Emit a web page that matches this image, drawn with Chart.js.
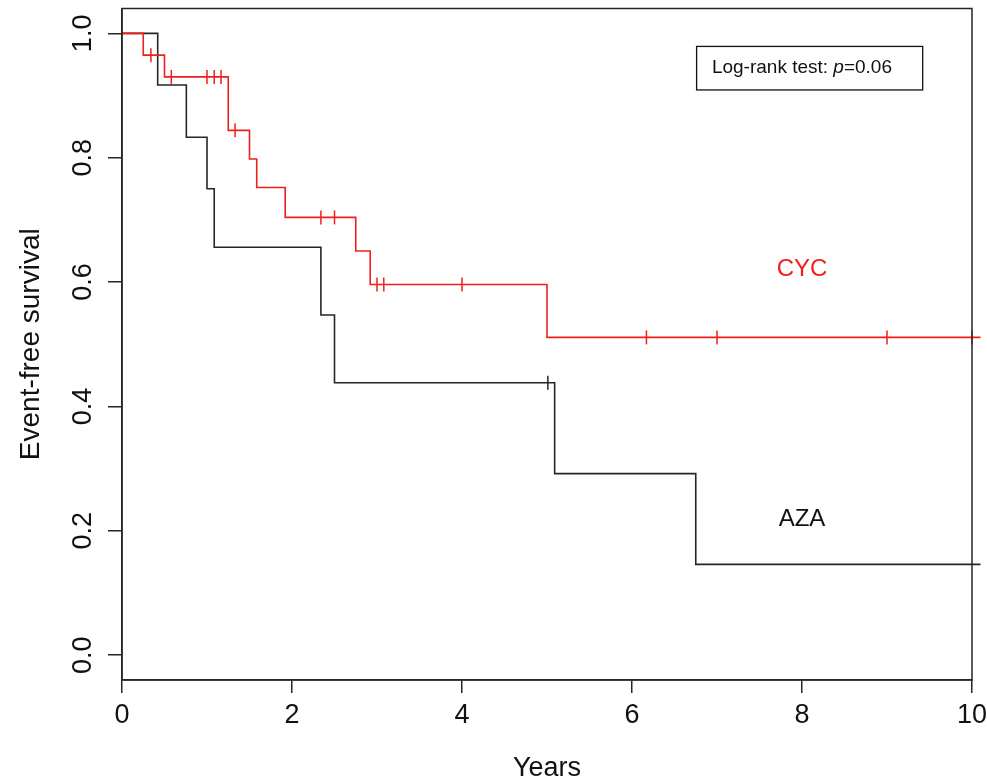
<!DOCTYPE html>
<html lang="en">
<head>
    <meta charset="UTF-8">
    <title>Event-free survival</title>
    <script src="https://cdn.jsdelivr.net/npm/chart.js"></script>
    <style>
        body { margin: 0; background: #fff; }
        canvas { display: block; }
    </style>
</head>
<body>
    <canvas id="kmChart" width="987" height="779"></canvas>

    <script>
        // Kaplan-Meier steps (years, survival)
        const cycTimes = [0, 0.25, 0.50, 1.25, 1.50, 1.585, 1.92, 2.75, 2.92, 5.00, 10.1];
        const cycSurv  = [1, 0.965, 0.930, 0.844, 0.798, 0.752, 0.704, 0.650, 0.596, 0.511, 0.511];
        const cycCensorTimes = [0.34, 0.58, 1.00, 1.085, 1.165, 1.33, 2.34, 2.50, 3.00, 3.08, 4.00, 6.17, 7.00, 9.00, 10.0];
        const cycCensorSurv  = [0.965, 0.930, 0.930, 0.930, 0.930, 0.844, 0.704, 0.704, 0.596, 0.596, 0.596, 0.511, 0.511, 0.511, 0.511];

        const azaTimes = [0, 0.42, 0.757, 1.00, 1.085, 2.34, 2.50, 5.09, 6.75, 10.1];
        const azaSurv  = [1, 0.917, 0.833, 0.750, 0.656, 0.547, 0.438, 0.292, 0.146, 0.146];
        const azaCensorTimes = [5.01];
        const azaCensorSurv  = [0.438];

        const xTicks = [0, 2, 4, 6, 8, 10];
        const yTicks = [0, 0.2, 0.4, 0.6, 0.8, 1.0];

        const FONT = '"Liberation Sans", Arial, sans-serif';
        const RED = '#f01e1e';
        const DARK = '#262626';

        const toPoints = (xs, ys) => xs.map((x, i) => ({ x: x, y: ys[i] }));

        // group labels and log-rank box, in data units
        const notes = {
            cyc: { x: 8.0, y: 0.62, text: 'CYC', color: RED },
            aza: { x: 8.0, y: 0.219, text: 'AZA', color: '#111' },
            box: { x0: 6.76, x1: 9.42, y0: 0.979, y1: 0.909, textX: 6.94 }
        };

        const frameAndNotes = {
            id: 'frameAndNotes',
            afterDraw(chart) {
                const c = chart.ctx;
                const a = chart.chartArea;
                const xs = chart.scales.x, ys = chart.scales.y;
                c.save();
                c.strokeStyle = DARK;
                c.lineWidth = 1.5;
                c.strokeRect(a.left, a.top, a.right - a.left, a.bottom - a.top);

                c.textAlign = 'center';
                c.textBaseline = 'middle';
                c.font = '24px ' + FONT;
                [notes.cyc, notes.aza].forEach(n => {
                    c.fillStyle = n.color;
                    c.fillText(n.text, xs.getPixelForValue(n.x), ys.getPixelForValue(n.y));
                });

                const b = notes.box;
                const bx0 = xs.getPixelForValue(b.x0), bx1 = xs.getPixelForValue(b.x1);
                const by0 = ys.getPixelForValue(b.y0), by1 = ys.getPixelForValue(b.y1);
                c.fillStyle = '#fff';
                c.fillRect(bx0, by0, bx1 - bx0, by1 - by0);
                c.lineWidth = 1.3;
                c.strokeStyle = '#111';
                c.strokeRect(bx0, by0, bx1 - bx0, by1 - by0);

                c.fillStyle = '#111';
                c.textAlign = 'left';
                let tx = xs.getPixelForValue(b.textX);
                const ty = (by0 + by1) / 2;
                const parts = [['Log-rank test: ', ''], ['p', 'italic '], ['=0.06', '']];
                parts.forEach(p => {
                    c.font = p[1] + '19px ' + FONT;
                    c.fillText(p[0], tx, ty);
                    tx += c.measureText(p[0]).width;
                });
                c.restore();
            }
        };

        new Chart(document.getElementById('kmChart'), {
            type: 'line',
            data: {
                datasets: [
                    {
                        label: 'CYC',
                        data: toPoints(cycTimes, cycSurv),
                        borderColor: RED,
                        borderWidth: 1.6,
                        stepped: true,
                        pointRadius: 0,
                        fill: false,
                        clip: false
                    },
                    {
                        label: 'AZA',
                        data: toPoints(azaTimes, azaSurv),
                        borderColor: DARK,
                        borderWidth: 1.6,
                        stepped: true,
                        pointRadius: 0,
                        fill: false,
                        clip: false
                    },
                    {
                        type: 'scatter',
                        label: 'CYC censored',
                        data: toPoints(cycCensorTimes, cycCensorSurv),
                        pointStyle: 'line',
                        rotation: 90,
                        pointRadius: 7,
                        borderColor: RED,
                        borderWidth: 1.5,
                        clip: false
                    },
                    {
                        type: 'scatter',
                        label: 'AZA censored',
                        data: toPoints(azaCensorTimes, azaCensorSurv),
                        pointStyle: 'line',
                        rotation: 90,
                        pointRadius: 7,
                        borderColor: DARK,
                        borderWidth: 1.5,
                        clip: false
                    }
                ]
            },
            options: {
                responsive: false,
                animation: false,
                layout: { padding: { top: 4, right: 15, bottom: 0, left: 0 } },
                plugins: {
                    legend: { display: false },
                    tooltip: { enabled: false }
                },
                scales: {
                    x: {
                        type: 'linear',
                        min: 0,
                        max: 10,
                        afterBuildTicks: s => { s.ticks = xTicks.map(v => ({ value: v })); },
                        afterFit: s => { s.height = 99; s.paddingLeft = 0; s.paddingRight = 0; },
                        grid: { drawOnChartArea: false, drawTicks: true, tickLength: 13, color: DARK, lineWidth: 1.5 },
                        border: { display: true, color: DARK, width: 1.5 },
                        ticks: {
                            color: '#111',
                            font: { family: FONT, size: 27 },
                            padding: 6,
                            maxRotation: 0,
                            callback: v => String(v)
                        },
                        title: {
                            display: true,
                            text: 'Years',
                            color: '#111',
                            font: { family: FONT, size: 27, lineHeight: 1 },
                            padding: { top: 0, bottom: -3 }
                        }
                    },
                    y: {
                        type: 'linear',
                        min: -0.04,
                        max: 1.04,
                        afterBuildTicks: s => { s.ticks = yTicks.map(v => ({ value: v })); },
                        afterFit: s => { s.width = 122; s.paddingTop = 0; s.paddingBottom = 0; },
                        grid: { drawOnChartArea: false, drawTicks: true, tickLength: 14, color: DARK, lineWidth: 1.5 },
                        border: { display: true, color: DARK, width: 1.5 },
                        ticks: {
                            color: '#111',
                            font: { family: FONT, size: 27 },
                            padding: 6,
                            minRotation: 90,
                            maxRotation: 90,
                            crossAlign: 'center',
                            callback: v => v.toFixed(1)
                        },
                        title: {
                            display: true,
                            text: 'Event-free survival',
                            color: '#111',
                            font: { family: FONT, size: 28, lineHeight: 1.2 },
                            padding: { top: 14, bottom: 0 }
                        }
                    }
                }
            },
            plugins: [frameAndNotes]
        });
    </script>
</body>
</html>
